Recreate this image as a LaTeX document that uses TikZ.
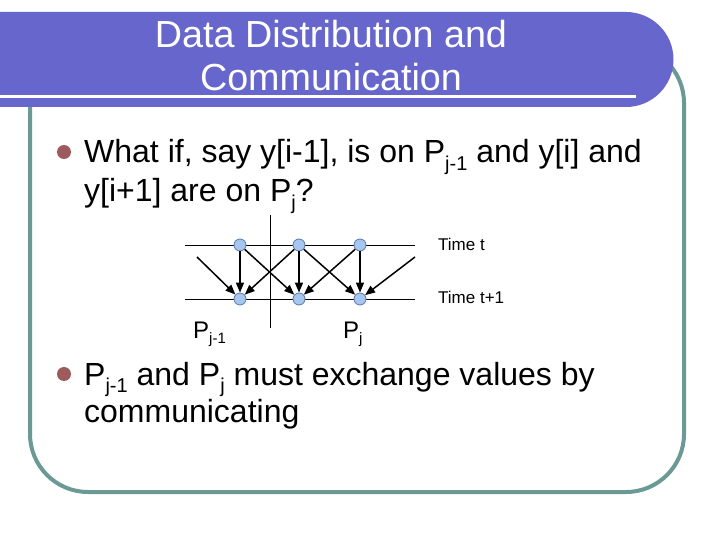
\documentclass[tikz,border=0pt]{standalone}
\usepackage{fontspec}
\setmainfont{Liberation Sans}
\usetikzlibrary{arrows.meta}
\definecolor{titlebg}{HTML}{6666CC}
\definecolor{framecol}{HTML}{6B9A96}
\definecolor{bulletcol}{HTML}{9E5B5B}
\definecolor{nodefill}{HTML}{A6C6F0}
\definecolor{nodeline}{HTML}{5A78A8}
\newcommand{\subtxt}[2][20]{\raisebox{-0.22em}{\fontsize{#1}{#1}\selectfont #2}}
\tikzset{
  bodytext/.style={anchor=base west, inner sep=0pt, font=\fontsize{32}{39}\selectfont},
  bulletdot/.style={circle, fill=bulletcol, minimum size=14pt, inner sep=0pt},
  pnode/.style={circle, draw=nodeline, fill=nodefill, line width=0.8pt, minimum size=12pt, inner sep=0pt},
  flow/.style={line width=1.5pt, -{Triangle[length=10pt, width=8pt]}},
  gridline/.style={line width=0.9pt},
  timelabel/.style={anchor=base west, inner sep=0pt, font=\fontsize{17}{20}\selectfont},
  plabel/.style={anchor=base west, inner sep=0pt, font=\fontsize{24}{28}\selectfont}
}
\begin{document}
\begin{tikzpicture}[x=1pt,y=-1pt]
\useasboundingbox (0,0) rectangle (720,540);
\fill[white] (0,0) rectangle (720,540);
% frame
\draw[framecol, line width=4pt, rounded corners=58pt] (30,45) rectangle (684,492);
% title bar
\fill[titlebg] (0,12) -- (626,12) arc(-90:90:47.5) -- (0,107) -- cycle;
\draw[white, line width=3.5pt] (0,96.5) -- (636,96.5);
\node[inner sep=0pt, align=center, text=white, font=\fontsize{37.7}{43.5}\selectfont, anchor=base] (title) at (331,91)
  {Data Distribution and\\Communication};
% bullet 1
\node[bulletdot] (b1dot) at (64,152) {};
\node[bodytext] (l1) at (84,163) {What if, say y[i-1], is on P\subtxt{j-1} and y[i] and};
\node[bodytext] (l2) at (84,202) {y[i+1] are on P\subtxt{j}?};
% diagram
\coordinate (hl1) at (185,245); \coordinate (hr1) at (415,245);
\coordinate (hl2) at (185,299); \coordinate (hr2) at (415,299);
\coordinate (vt) at (270,215); \coordinate (vb) at (270,328);
\draw[gridline] (hl1) -- (hr1);
\draw[gridline] (hl2) -- (hr2);
\draw[gridline] (vt) -- (vb);
\node[pnode] (t1) at (240,245) {};
\node[pnode] (t2) at (299,245) {};
\node[pnode] (t3) at (360,245) {};
\node[pnode] (u1) at (240,299) {};
\node[pnode] (u2) at (299,299) {};
\node[pnode] (u3) at (360,299) {};
\coordinate (in1) at (197,257);
\coordinate (in2) at (415,257);
\draw[flow] (t1) -- (u1);
\draw[flow] (t2) -- (u2);
\draw[flow] (t3) -- (u3);
\draw[flow] (t1) -- (u2);
\draw[flow] (t2) -- (u1);
\draw[flow] (t2) -- (u3);
\draw[flow] (t3) -- (u2);
\draw[flow] (in1) -- (u1);
\draw[flow] (in2) -- (u3);
\node[timelabel] (tt) at (438,250) {Time t};
\node[timelabel] (tt1) at (438,303) {Time t+1};
\node[plabel] (pj1) at (193,338) {P\subtxt[15]{j-1}};
\node[plabel] (pj) at (343,338) {P\subtxt[15]{j}};
% bullet 2
\node[bulletdot] (b2dot) at (64,374) {};
\node[bodytext] (l3) at (84,385) {P\subtxt{j-1} and P\subtxt{j} must exchange values by};
\node[bodytext] (l4) at (84,422) {communicating};
\end{tikzpicture}
\end{document}
